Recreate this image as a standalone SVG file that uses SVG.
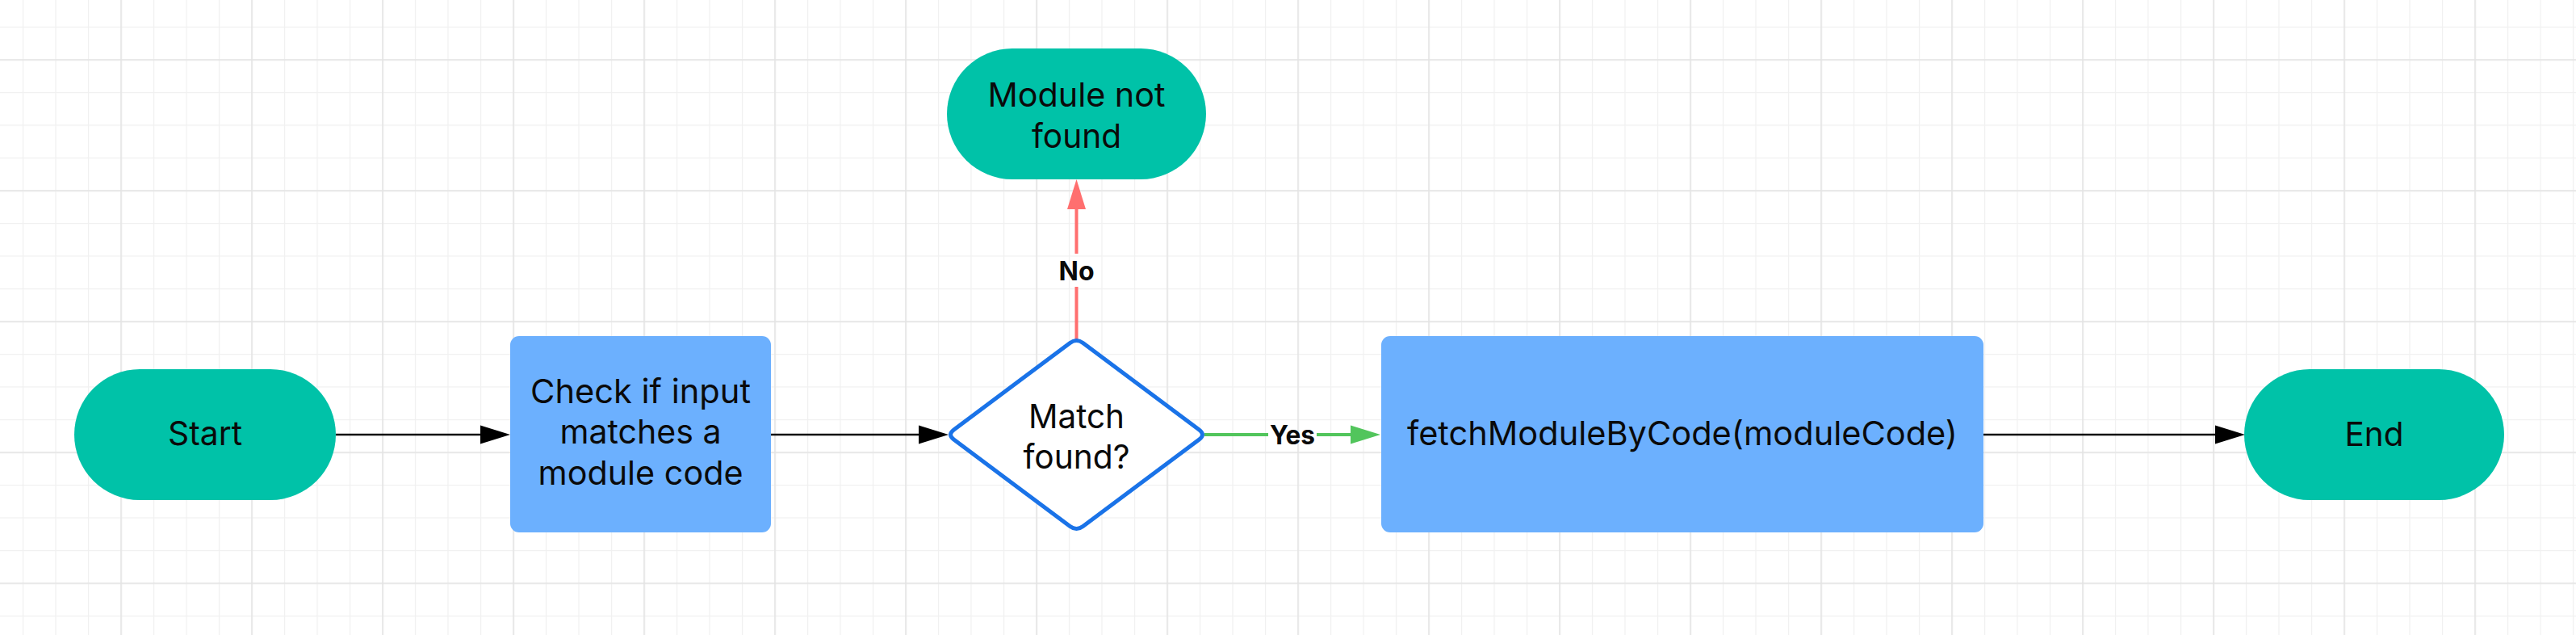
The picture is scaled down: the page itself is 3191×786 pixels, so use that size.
<svg xmlns="http://www.w3.org/2000/svg" width="3191" height="786" viewBox="0 0 3191 786">
  <style>
    .pill { fill: #00c2a8; }
    .box { fill: #6cb0fe; }
    .dec { fill: #ffffff; stroke: #1a73e8; stroke-width: 5; stroke-linejoin: round; }
    .t { font-family: Inter, "Noto Sans", "Liberation Sans", sans-serif; font-size: 41px; fill: #0a0a0a; text-anchor: middle; }
    .lbl { font-family: Inter, "Noto Sans", "Liberation Sans", sans-serif; font-size: 32px; font-weight: 700; fill: #0a0a0a; text-anchor: middle; }
    .c { fill: none; stroke: #111111; stroke-width: 2.5; }
    .cno { fill: none; stroke: #ff6f6f; stroke-width: 4; }
    .cyes { fill: none; stroke: #52c55c; stroke-width: 4; }
  </style>
  <defs>
    <pattern id="gminor" patternUnits="userSpaceOnUse" x="27.9" y="32.9" width="40.5" height="40.5">
      <rect x="0" y="0" width="1.2" height="40.5" fill="#f0f0f0"/>
      <rect x="0" y="0" width="40.5" height="1.2" fill="#f0f0f0"/>
    </pattern>
    <pattern id="gmajor" patternUnits="userSpaceOnUse" x="149.3" y="73.3" width="162" height="162">
      <rect x="0" y="0" width="1.5" height="162" fill="#e3e3e3"/>
      <rect x="0" y="0" width="162" height="1.5" fill="#e3e3e3"/>
    </pattern>
    <marker id="ab" markerUnits="userSpaceOnUse" markerWidth="37" markerHeight="23" refX="0" refY="11.5" orient="auto" overflow="visible">
      <path d="M0 0 L37 11.5 L0 23 Z" fill="#000000"/>
    </marker>
    <marker id="ar" markerUnits="userSpaceOnUse" markerWidth="37" markerHeight="23" refX="0" refY="11.5" orient="auto" overflow="visible">
      <path d="M0 0 L37 11.5 L0 23 Z" fill="#ff6f6f"/>
    </marker>
    <marker id="ag" markerUnits="userSpaceOnUse" markerWidth="37" markerHeight="23" refX="0" refY="11.5" orient="auto" overflow="visible">
      <path d="M0 0 L37 11.5 L0 23 Z" fill="#52c55c"/>
    </marker>
  </defs>

  <rect x="0" y="0" width="3191" height="786" fill="#ffffff"/>
  <rect x="0" y="0" width="3191" height="786" fill="url(#gminor)"/>
  <rect x="0" y="0" width="3191" height="786" fill="url(#gmajor)"/>

  <g id="connectors">
    <path class="c" d="M416 538 H595" marker-end="url(#ab)"/>
    <path class="c" d="M955 538 H1138" marker-end="url(#ab)"/>
    <path class="cno" d="M1333.5 421 V355 M1333.5 314 V259" marker-end="url(#ar)"/>
    <path class="cyes" d="M1492 538 H1571 M1631 538 H1673" marker-end="url(#ag)"/>
    <path class="c" d="M2457 538 H2744" marker-end="url(#ab)"/>
    <text class="lbl" x="1333.5" y="347" textLength="44" lengthAdjust="spacingAndGlyphs">No</text>
    <text class="lbl" x="1601" y="550" textLength="56" lengthAdjust="spacingAndGlyphs">Yes</text>
  </g>

  <g id="start">
    <rect class="pill" x="92" y="457" width="324" height="162" rx="81"/>
    <text class="t" x="254" y="551" textLength="92" lengthAdjust="spacingAndGlyphs">Start</text>
  </g>

  <g id="check">
    <rect class="box" x="632" y="416" width="323" height="243" rx="11"/>
    <text class="t" x="793.5" y="499" textLength="273" lengthAdjust="spacingAndGlyphs">Check if input</text>
    <text class="t" x="793.5" y="549" textLength="200" lengthAdjust="spacingAndGlyphs">matches a</text>
    <text class="t" x="793.5" y="600" textLength="254" lengthAdjust="spacingAndGlyphs">module code</text>
  </g>

  <g id="decision">
    <path class="dec" d="M1341.5 424.5 L1485.5 532 Q1493.5 538 1485.5 544 L1341.5 651.5 Q1333.5 657.5 1325.5 651.5 L1181.5 544 Q1173.5 538 1181.5 532 L1325.5 424.5 Q1333.5 418.5 1341.5 424.5 Z"/>
    <text class="t" x="1333.5" y="530" textLength="119" lengthAdjust="spacingAndGlyphs">Match</text>
    <text class="t" x="1333.5" y="580" textLength="132" lengthAdjust="spacingAndGlyphs">found?</text>
  </g>

  <g id="notfound">
    <rect class="pill" x="1173" y="60" width="321" height="162" rx="81"/>
    <text class="t" x="1333.5" y="132" textLength="220" lengthAdjust="spacingAndGlyphs">Module not</text>
    <text class="t" x="1333.5" y="183" textLength="111" lengthAdjust="spacingAndGlyphs">found</text>
  </g>

  <g id="fetch">
    <rect class="box" x="1711" y="416" width="746" height="243" rx="11"/>
    <text class="t" x="2084" y="551" font-size="42" textLength="682" lengthAdjust="spacingAndGlyphs">fetchModuleByCode(moduleCode)</text>
  </g>

  <g id="end">
    <rect class="pill" x="2780" y="457" width="322" height="162" rx="81"/>
    <text class="t" x="2941" y="552" textLength="73" lengthAdjust="spacingAndGlyphs">End</text>
  </g>
</svg>
